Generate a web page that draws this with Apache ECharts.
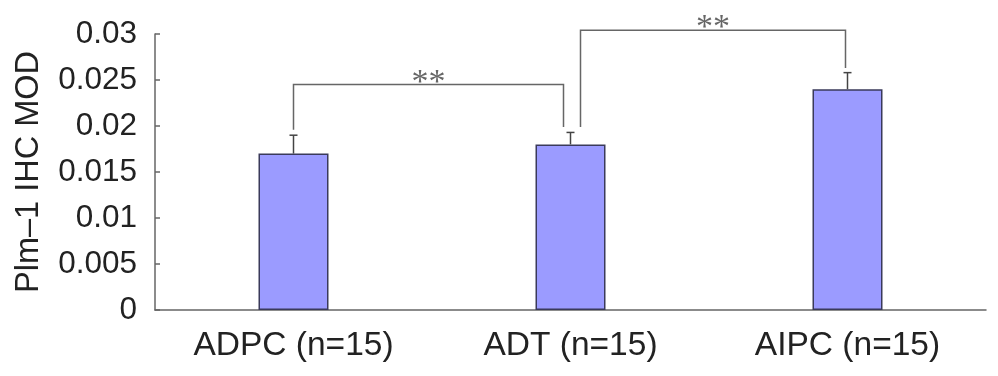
<!DOCTYPE html>
<html>
<head>
<meta charset="utf-8">
<script src="https://cdn.jsdelivr.net/npm/echarts@6/dist/echarts.min.js"></script>
<style>
  html, body { margin: 0; padding: 0; background: #fff; }
  #chart { width: 998px; height: 376px; }
</style>
</head>
<body>
<div id="chart"></div>
<script>
// groups and measured MOD values
const categories = ['ADPC (n=15)', 'ADT (n=15)', 'AIPC (n=15)']
const means = [0.017, 0.018, 0.024]
const errors = [0.002, 0.0013, 0.0018]
const yTicks = [0, 0.005, 0.01, 0.015, 0.02, 0.025, 0.03]

// significance brackets: [fromCat, toCat, leftLegBottom, top, rightLegBottom]
const brackets = [
  [0, 1, 0.0196, 0.0245, 0.0199],
  [1, 2, 0.0199, 0.0304, 0.0263]
]
const bracketLabels = ['**', '**']

const legShift = [[0, -7], [10, -2]]

const errorData = means.map((m, i) => [i, m, m + errors[i]])

let myChart = echarts.init(document.getElementById('chart'))

const option = {
  animation: false,
  grid: { left: 155, right: 12, top: 34, bottom: 66, outerBoundsMode: 'none', containLabel: false },
  xAxis: {
    type: 'category',
    data: categories,
    axisLine: { lineStyle: { color: '#666', width: 1.5 } },
    axisTick: { inside: true, length: 5, lineStyle: { color: '#666', width: 1.5 } },
    axisLabel: {
      color: '#222', fontSize: 33.5, fontFamily: 'Liberation Sans', margin: 19
    }
  },
  yAxis: {
    type: 'value',
    min: yTicks[0],
    max: yTicks[yTicks.length - 1],
    interval: 0.005,
    name: 'Plm–1 IHC MOD',
    nameLocation: 'middle',
    nameGap: 109,
    nameTextStyle: { color: '#222', fontSize: 32.5, fontFamily: 'Liberation Sans' },
    splitLine: { show: false },
    axisLine: { show: true, lineStyle: { color: '#666', width: 1.5 } },
    axisTick: { show: true, inside: true, length: 5, lineStyle: { color: '#666', width: 1.5 } },
    axisLabel: {
      color: '#222', fontSize: 31.5, fontFamily: 'Liberation Sans', margin: 18
    }
  },
  series: [
    {
      type: 'bar',
      data: means,
      barWidth: 70,
      itemStyle: { color: '#9b9bff', borderColor: '#3a3a5a', borderWidth: 1.5 }
    },
    {
      type: 'custom',
      data: errorData,
      z: 3,
      renderItem: (params, api) => {
        const base = api.coord([api.value(0), api.value(1)])
        const top = api.coord([api.value(0), api.value(2)])
        const style = { stroke: '#444', lineWidth: 1.5 }
        return {
          type: 'group',
          children: [
            { type: 'line', shape: { x1: base[0], y1: base[1], x2: top[0], y2: top[1] }, style },
            { type: 'line', shape: { x1: top[0] - 4, y1: top[1], x2: top[0] + 4, y2: top[1] }, style }
          ]
        }
      }
    },
    {
      type: 'custom',
      data: brackets,
      clip: false,
      z: 4,
      renderItem: (params, api) => {
        const i = params.dataIndex
        const shift = legShift[i]
        const a = api.coord([api.value(0), api.value(2)])
        const t = api.coord([api.value(0), api.value(3)])
        const b = api.coord([api.value(1), api.value(4)])
        const x1 = a[0] + shift[0]
        const x2 = b[0] + shift[1]
        return {
          type: 'group',
          children: [
            {
              type: 'polyline',
              shape: { points: [[x1, a[1]], [x1, t[1]], [x2, t[1]], [x2, b[1]]] },
              style: { stroke: '#666', lineWidth: 1.5, fill: null }
            },
            {
              type: 'text',
              x: (x1 + x2) / 2,
              y: t[1] - 2,
              style: {
                text: bracketLabels[i],
                fill: '#666',
                font: '34px "Liberation Serif"',
                textAlign: 'center',
                textVerticalAlign: 'middle'
              }
            }
          ]
        }
      }
    }
  ]
}

myChart.setOption(option)
</script>
</body>
</html>
